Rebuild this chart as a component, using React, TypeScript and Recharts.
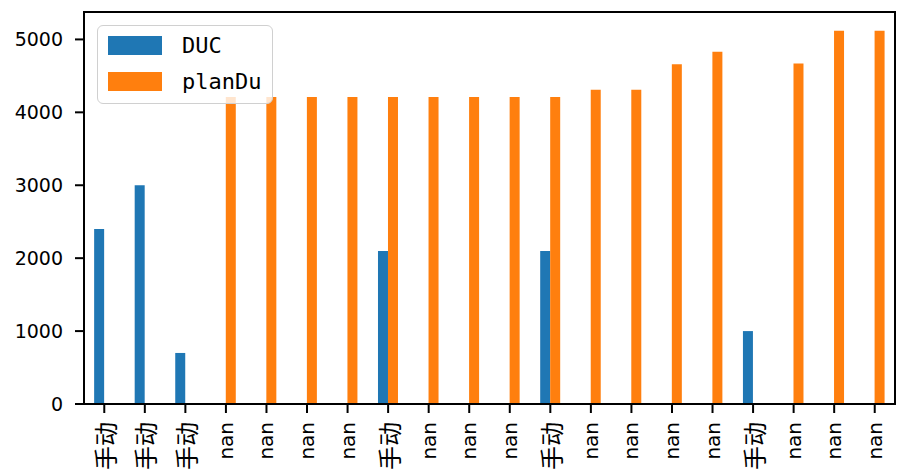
import React from 'react';
import { BarChart, Bar, XAxis, YAxis } from 'recharts';

const categories = ['手动', '手动', '手动', 'nan', 'nan', 'nan', 'nan', '手动', 'nan', 'nan', 'nan', '手动', 'nan', 'nan', 'nan', 'nan', '手动', 'nan', 'nan', 'nan'];
const ducValues: (number | null)[] = [2400, 3000, 700, null, null, null, null, 2100, null, null, null, 2100, null, null, null, null, 1000, null, null, null];
const planDuValues: (number | null)[] = [null, null, null, 4210, 4210, 4210, 4210, 4210, 4210, 4210, 4210, 4210, 4310, 4310, 4660, 4830, null, 4670, 5120, 5120];
const yTicks = [0, 1000, 2000, 3000, 4000, 5000];
const seriesNames = ['DUC', 'planDu'];
const colors = ['#1f77b4', '#ff7f0e'];

const data = categories.map((c, i) => ({ idx: i, label: c, DUC: ducValues[i], planDu: planDuValues[i] }));

const XTick = (props: any) => {
  const { x, y, payload } = props;
  const label = categories[payload.value] ?? '';
  const isCJK = /[\u4e00-\u9fff]/.test(label);
  return (
    <text
      x={x}
      y={y}
      transform={`rotate(-90, ${x}, ${y})`}
      textAnchor="end"
      dominantBaseline="central"
      fill="#000"
      style={{
        fontFamily: isCJK ? '"Noto Sans CJK SC", sans-serif' : '"DejaVu Sans", sans-serif',
        fontSize: isCJK ? 24 : 20,
      }}
    >
      {label}
    </text>
  );
};

export default function App() {
  return (
    <div style={{ position: 'absolute', left: 0, top: 0, width: 897, height: 473, background: '#fff' }}>
      <BarChart
        width={897}
        height={473}
        data={data}
        margin={{ top: 12, right: 2, bottom: 0, left: 0 }}
        barCategoryGap="25%"
        barGap={0}
      >
        <XAxis
          dataKey="idx"
          type="category"
          height={69}
          tickSize={9}
          tickMargin={9}
          tick={<XTick />}
          interval={0}
          axisLine={{ stroke: '#000', strokeWidth: 2 }}
          tickLine={{ stroke: '#000', strokeWidth: 2 }}
        />
        <YAxis
          width={84}
          domain={[0, 5376]}
          ticks={yTicks}
          tickSize={9}
          tickMargin={12}
          interval={0}
          allowDataOverflow
          axisLine={{ stroke: '#000', strokeWidth: 2 }}
          tickLine={{ stroke: '#000', strokeWidth: 2 }}
          tick={{ fill: '#000', fontSize: 19, fontFamily: '"DejaVu Sans", sans-serif' }}
        />
        <Bar dataKey="DUC" fill={colors[0]} isAnimationActive={false} />
        <Bar dataKey="planDu" fill={colors[1]} isAnimationActive={false} />
      </BarChart>
      <div
        style={{
          position: 'absolute',
          left: 83,
          top: 11,
          width: 813,
          height: 394,
          boxSizing: 'border-box',
          border: '2px solid #000',
          pointerEvents: 'none',
        }}
      />
      <div
        style={{
          position: 'absolute',
          left: 97,
          top: 25,
          width: 176,
          height: 79,
          boxSizing: 'border-box',
          border: '1.5px solid #d0d0d0',
          borderRadius: 6,
          background: 'rgba(255,255,255,0.8)',
        }}
      >
        {seriesNames.map((name, i) => (
          <div key={name}>
            <div
              style={{
                position: 'absolute',
                left: 10,
                top: 10 + i * 36,
                width: 54,
                height: 19,
                background: colors[i],
              }}
            />
            <div
              style={{
                position: 'absolute',
                left: 84,
                top: 6 + i * 36,
                height: 27,
                lineHeight: '27px',
                fontFamily: '"DejaVu Sans Mono", monospace',
                fontSize: 22,
                color: '#000',
              }}
            >
              {name}
            </div>
          </div>
        ))}
      </div>
    </div>
  );
}
